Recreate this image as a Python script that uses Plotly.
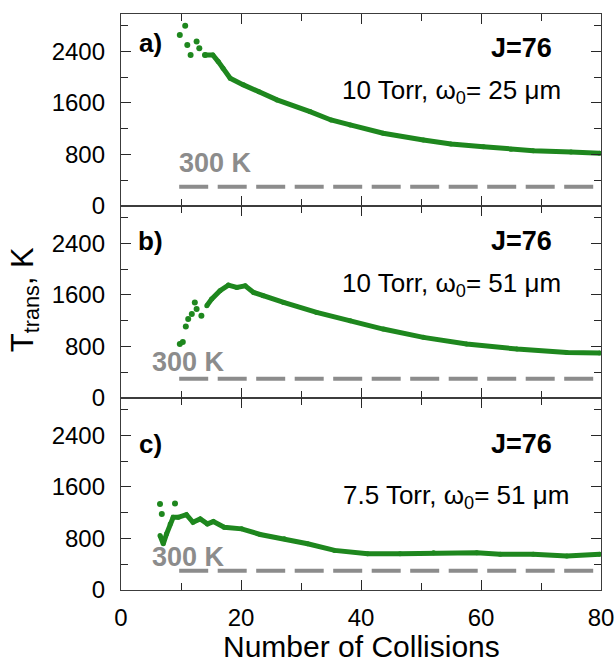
import plotly.graph_objects as go
from plotly.subplots import make_subplots

# ---------------- data ----------------
# panel a) 10 Torr, w0 = 25 um
a_scatter_x = [9.8, 10.7, 11.05, 11.6, 12.6, 13.05, 14.0]
a_scatter_T = [2656, 2796, 2500, 2345, 2552, 2449, 2345]
a_x = [14.0, 15.3, 16.2, 17.0, 18.2, 20.4, 23.0, 26.0, 31.5, 35.0, 38.2, 43.7,
       50.4, 55.0, 60.4, 65.0, 68.7, 75.0, 79.8]
a_T = [2345, 2345, 2241, 2138, 1983, 1880, 1775, 1647, 1465, 1335, 1258, 1129,
       1025, 963, 921, 880, 859, 838, 818]

# panel b) 10 Torr, w0 = 51 um
b_scatter_x = [9.8, 10.3, 10.8, 11.2, 11.8, 12.3, 12.6, 13.4]
b_scatter_T = [837, 868, 1111, 1225, 1302, 1483, 1380, 1276]
b_x = [14.3, 15.1, 16.5, 17.9, 19.3, 20.7, 22.1, 23.7, 27.1, 32.6, 38.2, 43.7,
       50.4, 57.6, 66.0, 74.3, 79.8]
b_T = [1431, 1535, 1664, 1752, 1716, 1741, 1638, 1586, 1483, 1328, 1199, 1070,
       941, 837, 760, 708, 698]

# panel c) 7.5 Torr, w0 = 51 um
c_scatter_x = [6.5, 6.8, 9.0]
c_scatter_T = [1334, 1180, 1343]
c_x = [6.5, 7.05, 7.6, 8.2, 8.7, 9.55, 10.9, 12.0, 13.2, 14.4, 15.4, 17.2, 20.1,
       23.2, 27.2, 31.1, 35.6, 41.1, 46.5, 52.1, 59.3, 63.2, 68.7, 74.3, 79.8]
c_T = [846, 718, 872, 1026, 1128, 1128, 1169, 1051, 1103, 1026, 1062, 974, 949,
       862, 795, 718, 615, 564, 564, 579, 579, 554, 554, 528, 554]

ref_x = [9.7, 80]
ref_T = [300, 300]

panel_labels = ["a)", "b)", "c)"]
conditions = ["10 Torr, \u03c9<sub>0</sub>= 25 \u03bcm",
              "10 Torr, \u03c9<sub>0</sub>= 51 \u03bcm",
              "7.5 Torr, \u03c9<sub>0</sub>= 51 \u03bcm"]
j_label = "J=76"
ref_label = "300 K"
x_title = "Number of Collisions"
y_title = "T<sub>trans</sub>, K"
x_ticks = [0, 20, 40, 60, 80]
y_ticks = [0, 800, 1600, 2400]

# ---------------- styling ----------------
GREEN = "rgb(30,135,30)"
GRAY = "rgb(140,140,140)"
FONT = "Arial, Liberation Sans, sans-serif"

fig = make_subplots(rows=3, cols=1, shared_xaxes=True, vertical_spacing=0)

panels = [
    (a_scatter_x, a_scatter_T, a_x, a_T),
    (b_scatter_x, b_scatter_T, b_x, b_T),
    (c_scatter_x, c_scatter_T, c_x, c_T),
]
for i, (sx, sy, lx, ly) in enumerate(panels, start=1):
    fig.add_trace(go.Scatter(x=ref_x, y=ref_T, mode="lines",
                             line=dict(color=GRAY, width=4, dash="29px,9.5px"),
                             showlegend=False, hoverinfo="skip"), row=i, col=1)
    fig.add_trace(go.Scatter(x=lx, y=ly, mode="lines+markers",
                             line=dict(color=GREEN, width=5),
                             marker=dict(color=GREEN, size=5),
                             showlegend=False), row=i, col=1)
    fig.add_trace(go.Scatter(x=sx, y=sy, mode="markers",
                             marker=dict(color=GREEN, size=6),
                             showlegend=False), row=i, col=1)

# text positions per panel (data coords)
lab_y = [2531, 2434, 2261]
j_y = [2453, 2434, 2261]
cond_x = [55.1, 55.1, 55.9]
cond_y = [1775, 1767, 1446]
ref_lab_x = [15.7, 11.3, 11.3]
ref_lab_y = [667, 558, 512]

for i in range(3):
    yref = "y" if i == 0 else f"y{i+1}"
    xref = "x" if i == 0 else f"x{i+1}"
    fig.add_annotation(x=4.9, y=lab_y[i], xref=xref, yref=yref, text=f"<b>{panel_labels[i]}</b>",
                       showarrow=False, font=dict(size=26, color="black", family=FONT))
    fig.add_annotation(x=66.8, y=j_y[i], xref=xref, yref=yref, text=f"<b>{j_label}</b>",
                       showarrow=False, font=dict(size=27, color="black", family=FONT))
    fig.add_annotation(x=cond_x[i], y=cond_y[i], xref=xref, yref=yref, text=conditions[i],
                       showarrow=False, font=dict(size=26, color="black", family=FONT))
    fig.add_annotation(x=ref_lab_x[i], y=ref_lab_y[i], xref=xref, yref=yref,
                       text=f"<b>{ref_label}</b>",
                       showarrow=False, font=dict(size=27, color=GRAY, family=FONT))

# axis titles
fig.add_annotation(x=-0.2, y=0.503, xref="paper", yref="paper",
                   xanchor="center", yanchor="middle",
                   text=y_title, textangle=-90, showarrow=False,
                   font=dict(size=31, color="black", family=FONT))
fig.add_annotation(x=0.5, y=-0.129, xref="paper", yref="paper",
                   xanchor="center", yanchor="bottom", borderpad=0,
                   text=x_title, showarrow=False,
                   font=dict(size=30, color="black", family=FONT))

axis_common = dict(showline=True, linecolor="rgb(60,60,60)", linewidth=1.3, mirror="ticks",
                   ticks="inside", ticklen=10, tickwidth=1.3, tickcolor="rgb(40,40,40)",
                   showgrid=False, zeroline=False, automargin=False,
                   tickfont=dict(size=24, color="black", family=FONT))

for i in range(1, 4):
    fig.update_xaxes(range=[0, 80], tickvals=x_ticks, row=i, col=1,
                     minor=dict(dtick=10, tick0=0, ticks="inside", ticklen=7,
                                tickcolor="rgb(40,40,40)", tickwidth=1.3),
                     **axis_common)
    fig.update_yaxes(range=[0, 2980], tickvals=y_ticks, row=i, col=1,
                     ticklabelstandoff=10,
                     minor=dict(dtick=400, tick0=0, ticks="inside", ticklen=7,
                                tickcolor="rgb(40,40,40)", tickwidth=1.3),
                     **axis_common)

fig.update_xaxes(row=3, col=1, ticklabelstandoff=6)

fig.update_layout(width=616, height=665,
                  margin=dict(l=121, r=15, t=14, b=75),
                  plot_bgcolor="white", paper_bgcolor="white",
                  font=dict(family=FONT))

fig.write_html("out.html")
